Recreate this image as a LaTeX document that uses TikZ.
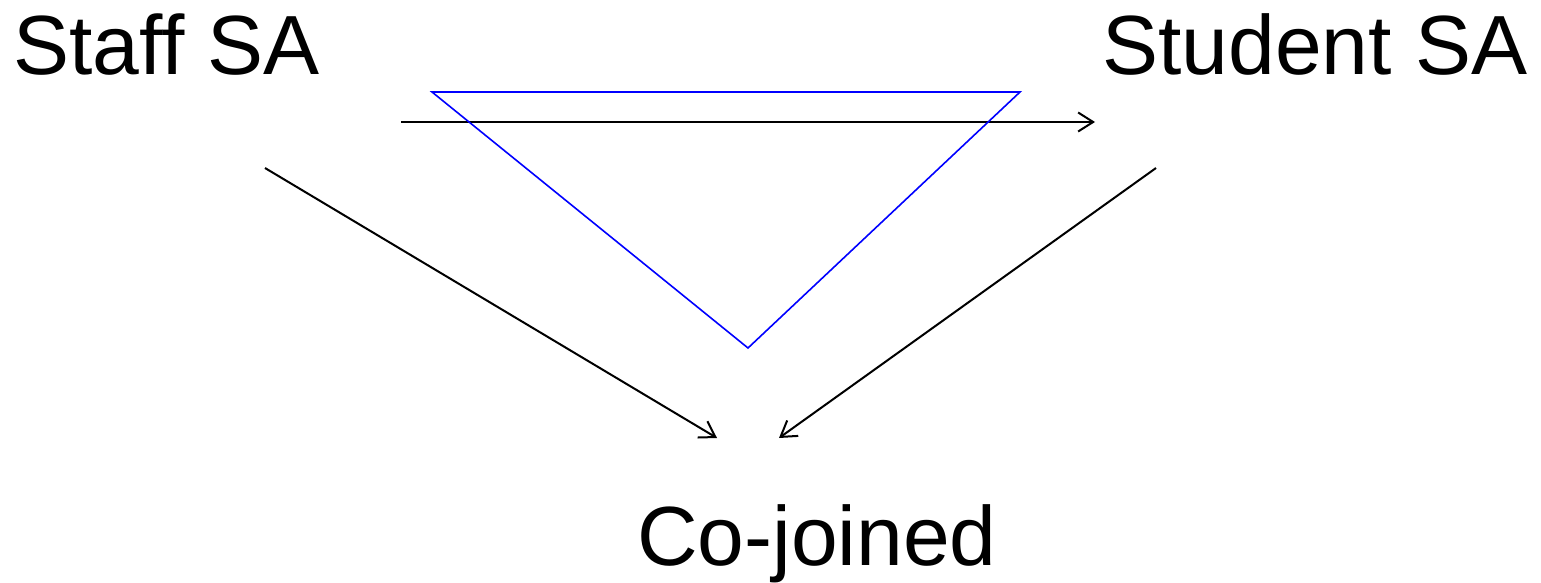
\documentclass[tikz,border=0pt]{standalone}
\usepackage{fontspec}
\setmainfont{Liberation Sans}
\usetikzlibrary{arrows.meta}
\begin{document}
\begin{tikzpicture}[x=1pt,y=-1pt,
  lbl/.style={inner sep=0pt,anchor=base west,font=\fontsize{84}{100}\selectfont},
  arr/.style={line width=2pt,-{Straight Barb[length=15pt,width=19pt,line width=2pt]}},
  tri/.style={draw=blue,line width=1.6pt,line join=miter}]
\useasboundingbox (0,0) rectangle (1541,583);
\node[lbl] (staff) at (13,75) {Staff SA};
\node[lbl] (student) at (1102,75) {Student SA};
\node[lbl] (cojoined) at (637,565) {Co-joined};
\coordinate (h1) at (401,122);
\coordinate (h2) at (1095,122);
\coordinate (l1) at (265,168);
\coordinate (l2) at (717,438);
\coordinate (r1) at (1156,168);
\coordinate (r2) at (779,438);
\coordinate (t1) at (432,92);
\coordinate (t2) at (1020,92);
\coordinate (t3) at (748,348);
\draw[arr] (h1) -- (h2);
\draw[arr] (l1) -- (l2);
\draw[arr] (r1) -- (r2);
\draw[tri] (t1) -- (t2) -- (t3) -- cycle;
\end{tikzpicture}
\end{document}
